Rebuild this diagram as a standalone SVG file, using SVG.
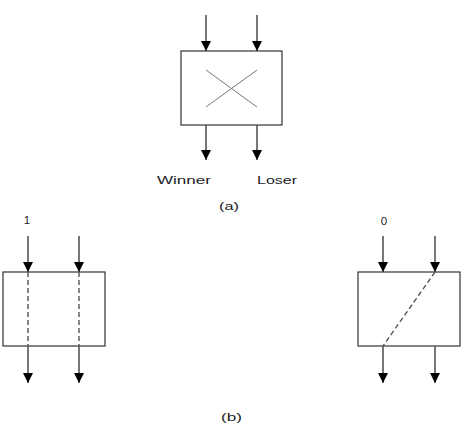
<svg xmlns="http://www.w3.org/2000/svg" width="473" height="432" viewBox="0 0 473 432">
<style>
.box{fill:#fff;stroke:#333;stroke-width:1.2}
.arr{stroke:#555;stroke-width:1.6;fill:none;marker-end:url(#ah)}
.dash{stroke:#555;stroke-width:1.4;stroke-dasharray:5,3;fill:none}
.cross{stroke:#777;stroke-width:1;fill:none}
text{font-family:"Liberation Sans",Arial,sans-serif;font-size:11.5px;fill:#222}
</style>
<defs>
<marker id="ah" markerWidth="10" markerHeight="10" refX="10" refY="5" orient="auto" markerUnits="userSpaceOnUse">
<path d="M0,0 L10,5 L0,10 Z" fill="#000"/>
</marker>
</defs>
<rect width="473" height="432" fill="#fff"/>
<g id="nodeA">
<rect class="box" x="181" y="51" width="101" height="74"/>
<line class="cross" x1="206" y1="70" x2="257" y2="107"/>
<line class="cross" x1="206" y1="107" x2="257" y2="70"/>
</g>
<g id="nodeB1">
<rect class="box" x="3" y="272" width="102" height="74"/>
<line class="dash" x1="28" y1="272" x2="28" y2="346"/>
<line class="dash" x1="79" y1="272" x2="79" y2="346"/>
</g>
<g id="nodeB2">
<rect class="box" x="358" y="272" width="102" height="74"/>
<line class="dash" x1="435" y1="272" x2="383" y2="346"/>
</g>
<g id="connectors">
<line class="arr" x1="206" y1="15" x2="206" y2="51"/>
<line class="arr" x1="257" y1="15" x2="257" y2="51"/>
<line class="arr" x1="206" y1="125" x2="206" y2="160"/>
<line class="arr" x1="257" y1="125" x2="257" y2="160"/>
<line class="arr" x1="28" y1="236" x2="28" y2="272"/>
<line class="arr" x1="79" y1="236" x2="79" y2="272"/>
<line class="arr" x1="28" y1="346" x2="28" y2="383"/>
<line class="arr" x1="79" y1="346" x2="79" y2="383"/>
<line class="arr" x1="383" y1="236" x2="383" y2="272"/>
<line class="arr" x1="435" y1="236" x2="435" y2="272"/>
<line class="arr" x1="383" y1="346" x2="383" y2="383"/>
<line class="arr" x1="435" y1="346" x2="435" y2="383"/>
</g>
<g id="labels">
<text x="157" y="184" textLength="54" lengthAdjust="spacingAndGlyphs">Winner</text>
<text x="257" y="184" textLength="40" lengthAdjust="spacingAndGlyphs">Loser</text>
<text x="219" y="210" textLength="20" lengthAdjust="spacingAndGlyphs">(a)</text>
<text x="221" y="421" textLength="21" lengthAdjust="spacingAndGlyphs">(b)</text>
<text x="27" y="224" text-anchor="middle">1</text>
<text x="384" y="225" text-anchor="middle">0</text>
</g>
</svg>
